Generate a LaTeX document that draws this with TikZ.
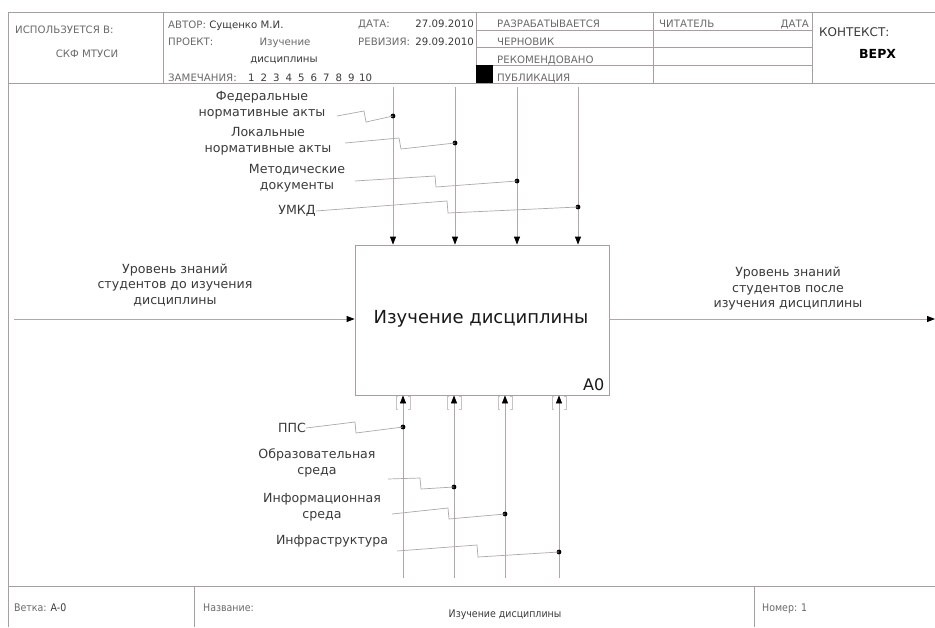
\documentclass[tikz,border=0pt]{standalone}
\usepackage{fontspec}
\setmainfont{DejaVu Sans}
\newfontfamily\condfont{DejaVu Sans Condensed}
\usetikzlibrary{arrows.meta,calc}
\definecolor{frameline}{HTML}{A89E9E}
\definecolor{arrline}{HTML}{B0A8A8}
\definecolor{labtext}{HTML}{3A3A3A}
\definecolor{hdrtext}{HTML}{6A6A6A}
\definecolor{hdrdark}{HTML}{3A3A3A}
\tikzset{
  frm/.style={draw=frameline, line width=0.8pt},
  arr/.style={draw=arrline, line width=0.8pt, -{Triangle[length=8pt,width=6pt,black]}},
  squig/.style={draw=arrline, line width=0.7pt},
  dotmark/.style={circle, fill=black, inner sep=0pt, minimum size=4.8pt},
  lbl/.style={text=labtext, font=\fontsize{12.6}{15.5}\selectfont, align=center, inner sep=0pt},
  hdr/.style={text=hdrtext, font=\fontsize{10.2}{11}\selectfont, inner sep=0pt, anchor=base west},
  hdrd/.style={text=hdrdark, font=\fontsize{10.2}{11}\selectfont, inner sep=0pt, anchor=base west},
  ftr/.style={text=hdrtext, font=\condfont\fontsize{10.5}{12}\selectfont, inner sep=0pt, anchor=base west},
  brk/.style={draw=arrline!70, line width=0.6pt},
}
\begin{document}
\begin{tikzpicture}[x=1pt,y=-1pt]
\useasboundingbox (0,0) rectangle (935,627);
\fill[white] (0,0) rectangle (935,627);

% ---------- header frame ----------
\draw[frm] (935,12) -- (8,12) -- (8,627);
\draw[frm] (8,83) -- (935,83);
\draw[frm] (163,12) -- (163,83);
\draw[frm] (476,12) -- (476,83);
\draw[frm] (653,12) -- (653,83);
\draw[frm] (812,12) -- (812,83);
\draw[frm] (476,30) -- (812,30);
\draw[frm] (476,47.5) -- (812,47.5);
\draw[frm] (476,65) -- (812,65);
\fill[black] (476,65) rectangle (493,83);

% header texts
\node[hdr] (used) at (15,33) {ИСПОЛЬЗУЕТСЯ В:};
\node[hdr, anchor=base] (org) at (87,57) {СКФ МТУСИ};
\node[hdr] (author) at (168,28) {АВТОР: \textcolor{hdrdark}{Сущенко М.И.}};
\node[hdr] (proj) at (168,45) {ПРОЕКТ:};
\node[hdr, anchor=base] (projn1) at (285,45) {Изучение};
\node[hdrd, anchor=base] (projn2) at (284,62) {дисциплины};
\node[hdr] (notes) at (168,81) {ЗАМЕЧАНИЯ:};
\foreach \i in {1,...,9}{
  \node[hdrd, anchor=base west] (nt\i) at (248+12.5*\i-12.5,81) {\i};
}
\node[hdrd, anchor=base west] (nt10) at (359,81) {10};
\node[hdr] (date) at (358,27) {ДАТА:};
\node[hdrd, anchor=base east] (dateval) at (474,27) {27.09.2010};
\node[hdr] (rev) at (358,45) {РЕВИЗИЯ:};
\node[hdrd, anchor=base east] (revval) at (474,45) {29.09.2010};
\node[hdr] (st1) at (497,27) {РАЗРАБАТЫВАЕТСЯ};
\node[hdr] (st2) at (497,45) {ЧЕРНОВИК};
\node[hdr] (st3) at (497,63) {РЕКОМЕНДОВАНО};
\node[hdr] (st4) at (497,81) {ПУБЛИКАЦИЯ};
\node[hdr] (reader) at (659,27) {ЧИТАТЕЛЬ};
\node[hdr, anchor=base east] (rdate) at (809,27) {ДАТА};
\node[text=labtext, font=\fontsize{12}{14}\selectfont, inner sep=0pt, anchor=base west] (ctx) at (819,36) {КОНТЕКСТ:};
\node[text=black, font=\bfseries\fontsize{12.5}{14}\selectfont, inner sep=0pt, anchor=base west] (top) at (859,58) {ВЕРХ};

% ---------- footer ----------
\draw[frm] (8,586) -- (935,586);
\draw[frm] (194,586) -- (194,627);
\draw[frm] (754,586) -- (754,627);
\node[ftr] (branch) at (14,611) {Ветка: \textcolor{hdrdark}{A-0}};
\node[ftr] (title) at (203,611) {Название:};
\node[ftr, anchor=base, text=hdrdark] (titlev) at (505,617) {Изучение дисциплины};
\node[ftr] (num) at (762,611) {Номер: 1};

% ---------- main box ----------
\node[draw=frameline, line width=0.8pt, minimum width=254pt, minimum height=150pt, inner sep=0pt] (box) at (482,320) {};
\node[text=black!90, font=\fontsize{18}{21}\selectfont, inner sep=0pt] (boxtext) at (481,319) {Изучение дисциплины};
\node[text=black!90, font=\fontsize{16}{18}\selectfont, inner sep=0pt, anchor=south east] (nodeid) at ($(box.south east)+(-5,-4)$) {A0};

% ---------- input / output ----------
\coordinate (inS) at (14,319);
\coordinate (outE) at (935,319);
\draw[arr] (inS) -- (inS -| box.west);
\draw[arr] (outE -| box.east) -- (outE);
\node[lbl] (inlbl) at (175,285) {Уровень знаний\\студентов до изучения\\дисциплины};
\node[lbl] (outlbl) at (788,289) {Уровень знаний\\студентов после\\изучения дисциплины};

% ---------- controls ----------
\foreach \n/\x in {1/393,2/455,3/517,4/578}{
  \coordinate (ct\n) at (\x,87);
  \draw[arr] (ct\n) -- (ct\n |- box.north);
}
\node[lbl] (c1lbl) at (262,105) {Федеральные\\нормативные акты};
\node[lbl] (c2lbl) at (268,141) {Локальные\\нормативные акты};
\node[lbl] (c3lbl) at (297,178) {Методические\\документы};
\node[lbl] (c4lbl) at (297,211) {УМКД};

\node[dotmark] (d1) at (393,116) {};
\node[dotmark] (d2) at (455,143) {};
\node[dotmark] (d3) at (517,181) {};
\node[dotmark] (d4) at (578,207) {};

\coordinate (s1) at (337,116);
\coordinate (s2) at (345,143);
\coordinate (s3) at (355,181);
\draw[squig] (s1) -- (364,111) -- (366,122) -- (d1.center);
\draw[squig] (s2) -- (399,138) -- (401,149) -- (d2.center);
\draw[squig] (s3) -- (435,176) -- (436,187) -- (d3.center);
\draw[squig] (c4lbl.east) -- (447,201) -- (448,213) -- (d4.center);

% ---------- mechanisms ----------
\foreach \n/\x in {1/403,2/454,3/505,4/559}{
  \coordinate (mb\n) at (\x,578);
  \draw[arr] (mb\n) -- (mb\n |- box.south);
  \draw[brk] (\x-5,396) -- (\x-7,396) -- (\x-7,409) -- (\x-5,409);
  \draw[brk] (\x+5,396) -- (\x+7,396) -- (\x+7,409) -- (\x+5,409);
}
\node[lbl] (m1lbl) at (292,428) {ППС};
\node[lbl] (m2lbl) at (317,463) {Образовательная\\среда};
\node[lbl] (m3lbl) at (322,507) {Информационная\\среда};
\node[lbl] (m4lbl) at (332,541) {Инфраструктура};

\node[dotmark] (e1) at (403,427) {};
\node[dotmark] (e2) at (454,487) {};
\node[dotmark] (e3) at (505,514) {};
\node[dotmark] (e4) at (559,552) {};

\coordinate (t2) at (388,479);
\coordinate (t3) at (392,514);
\coordinate (t4) at (397,551);
\draw[squig] (m1lbl.east) -- (355,422) -- (356,433) -- (e1.center);
\draw[squig] (t2) -- (420,478) -- (421,489) -- (e2.center);
\draw[squig] (t3) -- (448,508) -- (449,519) -- (e3.center);
\draw[squig] (t4) -- (477,545) -- (478,557) -- (e4.center);
\end{tikzpicture}
\end{document}
